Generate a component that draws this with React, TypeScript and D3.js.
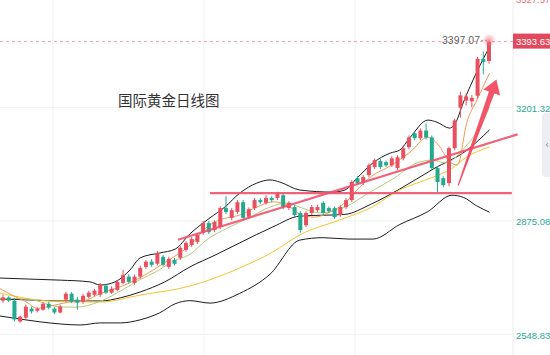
import React from "react";
import * as d3 from "d3";

const W = 550;
const H = 355;

// Candles (daily gold), index 0..85
const opens = [2649,2658,2649,2589,2600,2626,2620,2623,2640,2626,2615,2652,2669,2652,2646,2660,2666,2666,2692,2672,2680,2700,2718,2700,2718,2746,2761,2755,2775,2746,2766,2772,2795,2809,2818,2844,2872,2852,2861,2915,2887,2904,2932,2890,2915,2938,2930,2944,2944,2952,2915,2918,2901,2866,2901,2909,2930,2915,2915,2895,2918,2938,3001,2987,3010,3033,3050,3047,3038,3030,3058,3090,3130,3116,3138,3118,3030,3001,2987,3087,3204,3224,3222,3238,3344,3338];
const highs = [2666,2662,2657,2606,2638,2632,2630,2646,2645,2630,2637,2675,2674,2660,2668,2677,2683,2700,2697,2690,2709,2738,2725,2724,2750,2766,2768,2792,2780,2775,2772,2806,2820,2832,2843,2878,2878,2880,2920,2950,2915,2938,2938,2917,2944,2944,2952,2950,2962,2958,2935,2923,2906,2906,2924,2925,2935,2920,2920,2923,2944,2995,3007,3010,3044,3058,3056,3052,3064,3067,3093,3124,3136,3144,3158,3124,3036,3006,3092,3172,3250,3245,3240,3350,3365,3397.07];
const lows = [2643,2645,2589,2586,2595,2612,2615,2620,2624,2610,2612,2646,2642,2623,2640,2655,2662,2660,2668,2668,2676,2696,2698,2695,2712,2740,2746,2750,2748,2740,2750,2766,2790,2803,2812,2838,2840,2846,2855,2898,2880,2898,2880,2884,2909,2926,2925,2932,2938,2912,2910,2890,2844,2860,2895,2904,2895,2900,2884,2890,2912,2932,2981,2981,3004,3027,3027,3033,3033,3024,3052,3084,3110,3110,3112,3024,2961,2975,2978,3081,3175,3210,3205,3230,3300,3330];
const closes = [2658,2649,2595,2603,2632,2618,2626,2640,2629,2615,2632,2669,2646,2643,2663,2672,2678,2695,2672,2683,2703,2723,2703,2718,2743,2761,2752,2786,2752,2769,2755,2801,2815,2826,2838,2872,2846,2875,2915,2904,2909,2932,2887,2912,2938,2932,2944,2938,2958,2918,2930,2895,2852,2901,2918,2918,2901,2906,2889,2918,2938,2990,2987,3004,3038,3053,3033,3038,3058,3061,3087,3118,3116,3138,3118,3030,2990,2981,3087,3167,3239,3236,3232,3344,3335,3393.63];

// Indicator lines: [candle index, price]
const bollUpper: [number, number][] = [[-0.6,2714],[4.7,2711],[10,2708],[15.2,2703],[17,2694],[19.6,2703],[22.2,2737],[24,2772],[27.4,2786],[30.1,2797],[32.7,2841],[36.2,2887],[38.8,2918],[41.4,2958],[44.4,2987],[46.7,2996],[48.4,2990],[51.9,2967],[57.7,2961],[59.8,2967],[61.9,3001],[64.7,3045],[67.7,3073],[69.4,3082],[71.2,3118],[74.3,3168],[75.9,3162],[78.1,3145],[79.4,3168],[80.2,3205],[82.2,3283],[83.9,3341],[85.1,3378]];
const bollMid: [number, number][] = [[-0.6,2654],[4.7,2651],[10,2648],[17,2648],[20.5,2657],[24,2674],[28.3,2703],[32.7,2746],[37.1,2780],[41.4,2815],[47.2,2861],[51.9,2892],[59.8,2897],[64.2,2925],[69.4,2970],[75.2,3027],[81.1,3081],[85.1,3140]];
const bollLower: [number, number][] = [[-0.6,2605],[3,2596],[6.5,2588],[10,2582],[13.5,2579],[17,2585],[20.5,2585],[24,2594],[27.4,2614],[30.1,2640],[32.7,2649],[36.2,2642],[41.4,2670],[46.7,2725],[51.9,2823],[56,2830],[60.5,2826],[64.7,2826],[69.4,2868],[74.3,2905],[78.5,2952],[80.5,2946],[82.8,2922],[85.1,2903]];
const maGold: [number, number][] = [[-0.6,2671],[8.2,2648],[17,2645],[24,2665],[32.7,2691],[41.4,2743],[47.2,2789],[51.9,2838],[58.9,2881],[64.2,2915],[69.4,2967],[75.2,3004],[78.1,3025],[81.1,3062],[85.1,3091]];
const maOlive: [number, number][] = [[-0.6,2656],[4.7,2653],[9.1,2633],[12.6,2630],[17,2647],[21,2681],[24,2710],[26.9,2733],[29.7,2762],[32.7,2782],[35.7,2825],[39.2,2857],[43.2,2889],[46.7,2918],[49.7,2930],[51.9,2918],[55.4,2901],[59.8,2918],[64.2,2961],[68.5,3002],[72.4,3045],[75.2,3053],[77.3,3045],[81.1,3096],[83.9,3163],[85.1,3206]];
const maOrange: [number, number][] = [[-0.6,2684],[1.7,2664],[4.2,2644],[5.9,2627],[8.2,2633],[11.2,2644],[14.3,2649],[17,2669],[21,2692],[24,2715],[26.9,2744],[29.7,2773],[32.7,2808],[35.7,2861],[37.9,2881],[41.4,2895],[44.4,2918],[47.2,2933],[49.7,2924],[51.9,2898],[54.5,2889],[57.2,2904],[59.8,2930],[61.9,2967],[64.5,3007],[67.7,3036],[71.2,3076],[74.3,3119],[76.4,3091],[78.1,3048],[79.5,3039],[81.1,3160],[82.9,3226],[85.1,3303]];

// Drawn trend lines: [index, price] pairs
const supportLine: [number, number][] = [[36.2, 2958], [89, 2958]];
const risingLine: [number, number][] = [[30.6, 2824], [90, 3127]];
const arrowFrom: [number, number] = [79.6, 2980];
const arrowTo: [number, number] = [86.3, 3285];

const axisTicks = [2548.83, 2875.08, 3201.32, 3527.57];
const vGridIdx = [8.75, 35.15, 61.55];
const lastPrice = 3393.63;
const highPrice = 3397.07;
const title = "国际黄金日线图";

const RED = "#e8505f";
const GREEN = "#22a98f";

export default function App() {
  const x = d3.scaleLinear().domain([0, 85]).range([3, 489]);
  const y = d3.scaleLinear().domain([2548.83, 3201.32]).range([335.5, 108.5]);
  const plotRight = 513;
  const line = d3
    .line<[number, number]>()
    .x((d) => x(d[0]))
    .y((d) => y(d[1]))
    .curve(d3.curveMonotoneX);
  const straight = d3
    .line<[number, number]>()
    .x((d) => x(d[0]))
    .y((d) => y(d[1]));

  // Arrow polygon
  const ax0 = x(arrowFrom[0]), ay0 = y(arrowFrom[1]);
  const ax1 = x(arrowTo[0]), ay1 = y(arrowTo[1]);
  const len = Math.hypot(ax1 - ax0, ay1 - ay0);
  const ux = (ax1 - ax0) / len, uy = (ay1 - ay0) / len;
  const px = -uy, py = ux;
  const headLen = 14, headW = 9;
  const bx = ax1 - ux * headLen, by = ay1 - uy * headLen;
  const arrowPts = [
    [ax0 + px * 0.6, ay0 + py * 0.6],
    [bx + px * 2.9, by + py * 2.9],
    [bx + px * headW, by + py * headW],
    [ax1, ay1],
    [bx - px * headW, by - py * headW],
    [bx - px * 2.9, by - py * 2.9],
    [ax0 - px * 0.6, ay0 - py * 0.6],
  ]
    .map((p) => p.join(","))
    .join(" ");

  const bodyW = 4;
  const priceY = y(lastPrice);

  return (
    <div style={{ position: "fixed", left: 0, top: 0, width: W, height: H, background: "#fff" }}>
      <svg width={W} height={H} style={{ display: "block" }}>
        <defs>
          <clipPath id="plot">
            <rect x={0} y={0} width={plotRight} height={H} />
          </clipPath>
          <radialGradient id="glow">
            <stop offset="0%" stopColor="#f07080" stopOpacity={0.7} />
            <stop offset="100%" stopColor="#f07080" stopOpacity={0} />
          </radialGradient>
        </defs>
        {/* grid */}
        {axisTicks.map((t) => (
          <line key={"h" + t} x1={0} x2={plotRight} y1={y(t) - 1} y2={y(t) - 1} stroke="#f1f1f1" />
        ))}
        {vGridIdx.map((v) => (
          <line key={"v" + v} x1={x(v)} x2={x(v)} y1={0} y2={H} stroke="#f1f1f1" />
        ))}
        <line x1={plotRight} x2={plotRight} y1={0} y2={H} stroke="#ececec" />

        <g clipPath="url(#plot)">
          <path d={line(bollUpper) || ""} fill="none" stroke="#1c1c1c" strokeWidth={1} />
          <path d={line(bollMid) || ""} fill="none" stroke="#1c1c1c" strokeWidth={1} />
          <path d={line(bollLower) || ""} fill="none" stroke="#1c1c1c" strokeWidth={1} />
          <path d={line(maGold) || ""} fill="none" stroke="#f5c431" strokeWidth={1} />
          <path d={line(maOlive) || ""} fill="none" stroke="#b6c97c" strokeWidth={1} />
          <path d={line(maOrange) || ""} fill="none" stroke="#f59a52" strokeWidth={1} />

          {closes.map((c, i) => {
            const o = opens[i];
            const up = c >= o;
            const col = up ? RED : GREEN;
            const top = y(Math.max(o, c));
            const bot = y(Math.min(o, c));
            const cx = x(i);
            return (
              <g key={i}>
                <line x1={cx} x2={cx} y1={y(highs[i])} y2={y(lows[i])} stroke={col} strokeWidth={1} />
                <rect x={cx - bodyW / 2} y={top} width={bodyW} height={Math.max(1, bot - top)} fill={col} />
              </g>
            );
          })}

          <path d={straight(supportLine) || ""} stroke="#f2506b" strokeOpacity={0.9} strokeWidth={2.2} fill="none" />
          <line x1={0} x2={plotRight} y1={priceY} y2={priceY} stroke="#f4a2ac" strokeDasharray="3,3" />
          <circle cx={x(85)} cy={y(highPrice)} r={7} fill="url(#glow)" />
        </g>
        <path d={straight(risingLine) || ""} stroke="#f2506b" strokeOpacity={0.9} strokeWidth={2.2} fill="none" />
        <polygon points={arrowPts} fill="#f2455d" fillOpacity={0.92} />

        <text x={x(85) - 9} y={y(highPrice) + 4} textAnchor="end" fontSize={10.5} fill="#666" fontFamily="Liberation Sans, Arial, sans-serif">
          {highPrice.toFixed(2)}
        </text>
        <line x1={x(85) - 8} x2={x(85) - 2} y1={y(highPrice)} y2={y(highPrice)} stroke="#999" strokeDasharray="2,2" />

        <text x={118} y={106} fontSize={14.5} fill="#333" fontFamily="Noto Sans CJK SC, sans-serif">
          {title}
        </text>

        {axisTicks.map((t) => (
          <text
            key={"t" + t}
            x={516}
            y={Math.max(y(t), -1) + 3.5}
            fontSize={9.5}
            fill={t > 3400 ? "#e9707e" : "#2aa996"}
            fontFamily="Liberation Sans, Arial, sans-serif"
          >
            {t.toFixed(2)}
          </text>
        ))}
        <rect x={plotRight} y={priceY - 8} width={W - plotRight} height={15} fill="#e2495c" />
        <text x={516} y={priceY + 3.5} fontSize={9.5} fill="#fff" fontFamily="Liberation Sans, Arial, sans-serif">
          {lastPrice.toFixed(2)}
        </text>

        <rect x={542} y={113} width={14} height={64} rx={4} fill="#eceef3" />
        <text x={545} y={148} fontSize={10} fill="#888" fontFamily="DejaVu Sans, sans-serif">‹</text>
      </svg>
    </div>
  );
}
